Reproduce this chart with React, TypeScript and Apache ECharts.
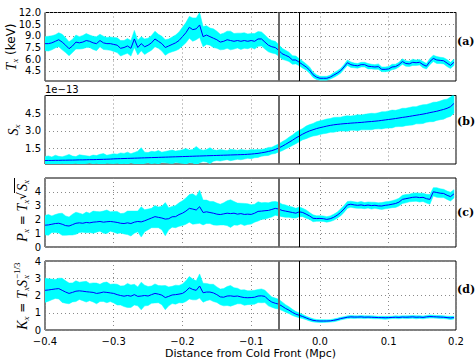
import React, { useEffect, useRef } from "react";
import * as echarts from "echarts";

const xs: number[] = [
  -0.400,-0.395,-0.390,-0.385,-0.380,-0.375,-0.370,-0.365,-0.360,-0.355,
  -0.350,-0.345,-0.340,-0.335,-0.330,-0.325,-0.320,-0.315,-0.310,-0.305,
  -0.300,-0.295,-0.290,-0.285,-0.280,-0.275,-0.270,-0.265,-0.260,-0.255,
  -0.250,-0.245,-0.240,-0.235,-0.230,-0.225,-0.220,-0.215,-0.210,-0.205,
  -0.200,-0.195,-0.190,-0.185,-0.180,-0.175,-0.170,-0.165,-0.160,-0.155,
  -0.150,-0.145,-0.140,-0.135,-0.130,-0.125,-0.120,-0.115,-0.110,-0.105,
  -0.100,-0.095,-0.090,-0.085,-0.080,-0.075,-0.070,-0.065,-0.060,-0.055,
  -0.050,-0.045,-0.040,-0.035,-0.030,-0.025,-0.020,-0.015,-0.010,-0.005,
  0.000,0.005,0.010,0.015,0.020,0.025,0.030,0.035,0.040,0.045,
  0.050,0.055,0.060,0.065,0.070,0.075,0.080,0.085,0.090,0.095,
  0.100,0.105,0.110,0.115,0.120,0.125,0.130,0.135,0.140,0.145,
  0.150,0.155,0.160,0.165,0.170,0.175,0.180,0.185,0.190,0.195,
];

// (a) temperature T_x (keV)
const tVals: number[] = [
  8.0,8.0,8.1,8.3,8.5,8.2,7.8,7.35,7.7,8.2,
  8.1,8.2,8.4,8.3,8.1,8.0,8.4,8.1,8.0,8.0,
  7.9,7.8,7.4,7.5,7.7,7.4,8.6,7.5,8.0,7.6,
  7.8,8.1,8.6,8.3,8.0,7.5,7.7,7.9,8.1,8.4,
  8.9,9.4,10.1,9.8,9.9,10.4,8.9,9.1,8.9,8.7,
  8.5,8.2,8.3,8.5,8.4,8.3,8.4,8.3,8.4,8.3,
  8.4,8.3,8.6,8.6,8.2,7.8,7.6,7.5,7.15,6.7,
  6.5,6.3,5.9,5.9,5.6,5.3,5.0,4.6,4.0,3.7,
  3.55,3.55,3.55,3.7,3.95,4.2,4.5,5.0,5.55,5.3,
  5.2,5.15,5.3,5.3,5.1,5.05,5.0,5.05,4.7,4.7,
  4.75,5.0,5.05,5.3,5.7,5.45,5.4,5.6,5.55,5.6,
  5.3,5.1,5.7,6.1,5.9,5.85,5.8,5.5,5.2,5.6,
];
const tErr: number[] = [
  0.9,0.95,0.9,0.85,0.9,1.0,0.95,0.9,0.85,0.9,
  0.8,0.85,0.9,0.8,0.85,0.9,0.8,0.85,0.8,0.85,
  0.9,0.95,1.0,0.9,0.95,1.0,1.1,0.95,0.9,1.0,
  0.9,0.95,1.0,0.9,0.95,1.0,0.9,0.95,1.0,1.1,
  1.2,1.3,1.4,1.5,1.4,1.6,1.3,1.2,1.1,1.2,
  1.1,1.0,1.05,1.1,1.2,1.0,0.95,1.05,1.0,0.95,
  0.9,1.0,0.95,0.9,0.9,0.85,0.8,0.8,0.75,0.7,
  0.65,0.6,0.55,0.5,0.45,0.45,0.4,0.4,0.35,0.3,
  0.25,0.25,0.25,0.25,0.3,0.3,0.3,0.3,0.35,0.35,
  0.3,0.3,0.3,0.3,0.35,0.3,0.3,0.35,0.3,0.3,
  0.3,0.35,0.3,0.3,0.35,0.35,0.35,0.4,0.35,0.35,
  0.4,0.35,0.4,0.4,0.45,0.4,0.4,0.45,0.4,0.4,
];

// (b) S_x in units of 1e-13
const sVals: number[] = [
  0.40,0.41,0.41,0.42,0.42,0.43,0.43,0.44,0.44,0.45,
  0.46,0.46,0.47,0.48,0.48,0.49,0.50,0.51,0.52,0.53,
  0.55,0.56,0.57,0.58,0.59,0.60,0.61,0.62,0.63,0.64,
  0.65,0.66,0.67,0.68,0.69,0.70,0.71,0.72,0.73,0.74,
  0.75,0.76,0.77,0.78,0.79,0.80,0.81,0.82,0.83,0.84,
  0.85,0.86,0.87,0.88,0.89,0.90,0.91,0.92,0.93,0.95,
  0.97,1.0,1.03,1.08,1.13,1.2,1.27,1.37,1.5,1.65,
  1.82,2.0,2.18,2.38,2.55,2.72,2.87,3.0,3.1,3.2,
  3.28,3.35,3.42,3.48,3.53,3.57,3.6,3.63,3.65,3.68,
  3.7,3.72,3.74,3.77,3.8,3.82,3.85,3.88,3.92,3.96,
  4.0,4.04,4.08,4.13,4.18,4.22,4.27,4.32,4.37,4.42,
  4.47,4.53,4.6,4.66,4.72,4.8,4.88,4.98,5.12,5.4,
];
const sErr: number[] = [
  0.35,0.4,0.3,0.45,0.35,0.3,0.4,0.5,0.35,0.3,
  0.45,0.4,0.35,0.3,0.4,0.35,0.45,0.5,0.35,0.4,
  0.45,0.4,0.5,0.45,0.55,0.4,0.5,0.6,0.9,0.5,
  0.45,0.55,0.5,0.6,0.45,0.5,0.55,0.6,0.5,0.55,
  0.6,0.7,0.55,0.6,0.85,0.6,0.5,0.55,0.7,0.5,
  0.45,0.5,0.45,0.4,0.5,0.45,0.4,0.45,0.4,0.35,
  0.4,0.35,0.35,0.3,0.3,0.35,0.3,0.35,0.35,0.4,
  0.4,0.45,0.45,0.5,0.5,0.5,0.55,0.55,0.55,0.6,
  0.6,0.6,0.62,0.6,0.65,0.62,0.6,0.65,0.68,0.62,
  0.65,0.7,0.65,0.68,0.7,0.72,0.68,0.7,0.75,0.72,
  0.75,0.78,0.72,0.75,0.8,0.76,0.78,0.8,0.75,0.8,
  0.82,0.78,0.8,0.85,0.8,0.82,0.85,0.8,0.85,0.85,
];

// (c) pressure P_x
const pVals: number[] = [
  1.58,1.6,1.65,1.7,1.72,1.65,1.55,1.52,1.62,1.72,
  1.75,1.72,1.78,1.75,1.8,1.82,1.85,1.8,1.83,1.85,
  1.82,1.78,1.72,1.7,1.75,1.7,1.8,1.85,1.82,1.9,
  2.0,2.1,2.2,2.15,2.1,2.02,2.05,2.19,2.2,2.35,
  2.45,2.6,2.8,2.75,2.68,2.92,2.5,2.55,2.5,2.45,
  2.38,2.35,2.4,2.45,2.42,2.45,2.38,2.42,2.36,2.38,
  2.36,2.45,2.58,2.6,2.63,2.65,2.72,2.8,2.75,2.65,
  2.6,2.55,2.5,2.45,2.55,2.5,2.38,2.25,2.08,2.06,
  2.07,2.05,2.0,2.05,2.15,2.3,2.5,2.75,3.05,3.1,
  3.05,3.02,3.05,3.0,3.04,3.0,3.02,2.98,2.97,3.02,
  3.05,3.1,3.15,3.25,3.45,3.5,3.55,3.6,3.62,3.58,
  3.6,3.5,3.45,4.0,3.95,3.9,3.88,3.75,3.65,3.85,
];
const pErr: number[] = [
  0.7,0.75,0.6,0.65,0.7,0.8,0.7,0.65,0.75,0.8,
  0.7,0.65,0.75,0.7,0.8,0.75,0.7,0.8,0.85,0.7,
  0.75,0.8,0.7,0.75,0.85,0.9,0.8,0.75,1.1,0.8,
  0.75,0.7,0.8,0.75,0.85,1.2,0.8,0.75,0.8,0.85,
  0.9,0.95,1.0,1.1,1.0,1.2,0.9,0.85,0.8,0.85,
  0.8,0.75,0.8,0.9,1.0,0.85,0.8,0.75,0.8,0.75,
  0.7,0.65,0.7,0.6,0.6,0.55,0.55,0.5,0.5,0.45,
  0.45,0.4,0.4,0.35,0.35,0.3,0.3,0.25,0.25,0.2,
  0.2,0.2,0.2,0.2,0.22,0.22,0.25,0.25,0.25,0.22,
  0.22,0.22,0.25,0.22,0.22,0.25,0.22,0.22,0.25,0.25,
  0.25,0.25,0.28,0.28,0.3,0.3,0.28,0.3,0.3,0.32,
  0.3,0.32,0.35,0.3,0.35,0.32,0.3,0.3,0.32,0.3,
];

// (d) entropy K_x
const kVals: number[] = [
  2.3,2.32,2.35,2.38,2.4,2.3,2.2,2.12,2.18,2.25,
  2.27,2.25,2.22,2.2,2.18,2.12,2.15,2.2,2.18,2.15,
  2.12,2.05,2.0,1.96,2.0,1.96,2.05,1.95,1.97,2.0,
  1.97,2.05,2.12,2.08,2.02,1.88,1.95,2.03,2.05,2.08,
  2.12,2.25,2.45,2.35,2.3,2.55,2.16,2.2,2.2,2.15,
  2.05,1.92,1.9,1.97,1.98,1.95,1.97,1.92,1.88,1.87,
  1.88,1.9,1.97,1.98,1.95,1.75,1.62,1.55,1.5,1.38,
  1.25,1.15,1.02,0.92,0.85,0.78,0.7,0.62,0.56,0.53,
  0.52,0.52,0.52,0.53,0.56,0.6,0.66,0.7,0.74,0.76,
  0.75,0.75,0.76,0.74,0.75,0.74,0.73,0.72,0.72,0.71,
  0.72,0.73,0.74,0.73,0.75,0.74,0.75,0.76,0.74,0.75,
  0.73,0.76,0.78,0.77,0.76,0.75,0.74,0.72,0.7,0.72,
];
const kErr: number[] = [
  0.7,0.65,0.6,0.55,0.6,0.7,0.65,0.6,0.55,0.6,
  0.5,0.55,0.6,0.5,0.55,0.6,0.5,0.55,0.6,0.5,
  0.55,0.6,0.55,0.6,0.7,0.65,0.6,0.55,0.8,0.6,
  0.55,0.5,0.55,0.5,0.55,0.7,0.55,0.5,0.55,0.5,
  0.55,0.6,0.65,0.6,0.55,0.7,0.55,0.5,0.45,0.5,
  0.45,0.45,0.5,0.55,0.6,0.5,0.45,0.4,0.45,0.4,
  0.4,0.4,0.38,0.4,0.36,0.35,0.3,0.3,0.28,0.25,
  0.22,0.2,0.18,0.15,0.14,0.12,0.1,0.1,0.09,0.08,
  0.08,0.08,0.07,0.07,0.08,0.08,0.08,0.07,0.08,0.08,
  0.08,0.07,0.08,0.08,0.07,0.08,0.08,0.07,0.08,0.08,
  0.08,0.07,0.08,0.08,0.07,0.08,0.08,0.08,0.09,0.08,
  0.08,0.08,0.09,0.08,0.08,0.09,0.08,0.08,0.09,0.08,
];

const frontLines: number[] = [-0.06, -0.034];
const tTicks: number[] = [4.5, 6.0, 7.5, 9.0, 10.5, 12.0];
const sTicks: number[] = [1.5, 3.0, 4.5];
const pTicks: number[] = [0, 1, 2, 3, 4];
const kTicks: number[] = [0, 1, 2, 3, 4];
const panelTags: string[] = ["(a)", "(b)", "(c)", "(d)"];
const xTitle = "Distance from Cold Front (Mpc)";

const SANS = "DejaVu Sans";
const MATH = "Liberation Serif";

const gridBoxes = [
  { top: 12.5, height: 68.5 },
  { top: 95.5, height: 68.5 },
  { top: 178, height: 69 },
  { top: 261, height: 69 },
];

function fmtX(v: number): string {
  if (Math.abs(v) < 1e-9) return "0.0";
  return (v < 0 ? "\u2212" : "") + Math.abs(v).toFixed(1);
}

function bandSeries(g: number, vals: number[], errs: number[]) {
  const lowHigh = xs.map((x, i) => [x, vals[i] - errs[i], vals[i] + errs[i]]);
  return [
    {
      type: "custom",
      xAxisIndex: g,
      yAxisIndex: g,
      clip: true,
      silent: true,
      z: 2,
      data: lowHigh,
      encode: { x: 0, y: [1, 2] },
      renderItem: (params: any, api: any) => {
        if (params.dataIndex !== 0) return null;
        const up = lowHigh.map((d) => api.coord([d[0], d[2]]));
        const lo = lowHigh.map((d) => api.coord([d[0], d[1]])).reverse();
        return {
          type: "polygon",
          shape: { points: up.concat(lo) },
          style: { fill: "#00ffff", stroke: "#00ffff", lineWidth: 0.5 },
        };
      },
    },
    {
      type: "line",
      xAxisIndex: g,
      yAxisIndex: g,
      data: xs.map((x, i) => [x, vals[i]]),
      showSymbol: false,
      symbol: "none",
      lineStyle: { color: "#0000ff", width: 1 },
      silent: true,
      z: 3,
      markLine: {
        silent: true,
        symbol: "none",
        label: { show: false },
        animation: false,
        data: [
          { xAxis: frontLines[0], lineStyle: { color: "#6a6a6a", width: 2, type: "solid" } },
          { xAxis: frontLines[1], lineStyle: { color: "#000", width: 1, type: "solid" } },
        ],
      },
    },
  ];
}

const rich = {
  i: { fontFamily: MATH, fontStyle: "italic", fontSize: 14, lineHeight: 16, color: "#000" },
  n: { fontFamily: SANS, fontSize: 12, lineHeight: 16, color: "#000" },
  s: { fontFamily: MATH, fontStyle: "italic", fontSize: 9, lineHeight: 9, verticalAlign: "bottom", color: "#000" },
};

export default function App() {
  const ref = useRef<HTMLDivElement>(null);
  useEffect(() => {
    if (!ref.current) return;
    const chart = echarts.init(ref.current, undefined, { renderer: "svg" });
    const yDefs = [
      { min: 3.2, max: 12.0, ticks: tTicks, fmt: (v: number) => v.toFixed(1) },
      { min: 0.1, max: 6.1, ticks: sTicks, fmt: (v: number) => v.toFixed(1) },
      { min: 0, max: 5, ticks: pTicks, fmt: (v: number) => String(Math.round(v)) },
      { min: 0, max: 4, ticks: kTicks, fmt: (v: number) => String(Math.round(v)) },
    ];
    const split = { show: true, lineStyle: { color: "#8a8a8a", width: 1, type: [1, 3] } };
    const option: any = {
      animation: false,
      grid: gridBoxes.map((b) => ({
        left: 45,
        width: 411,
        top: b.top,
        height: b.height,
        show: true,
        borderColor: "#000",
        borderWidth: 1,
        backgroundColor: "transparent",
      })),
      xAxis: gridBoxes.map((_, g) => ({
        type: "value",
        gridIndex: g,
        min: -0.4,
        max: 0.198,
        interval: 0.1,
        axisLine: { show: false },
        axisTick: { show: false },
        splitLine: split,
        axisLabel: {
          show: g === 3,
          formatter: fmtX,
          fontFamily: SANS,
          fontSize: 10,
          color: "#000",
          margin: 6,
        },
        name: g === 3 ? xTitle : "",
        nameLocation: "middle",
        nameGap: 18,
        nameTextStyle: { fontFamily: SANS, fontSize: 11, color: "#000" },
      })),
      yAxis: yDefs.map((d, g) => ({
        type: "value",
        gridIndex: g,
        min: d.min,
        max: d.max,
        axisLine: { show: false },
        axisTick: { show: false, customValues: d.ticks },
        splitLine: split,
        axisLabel: {
          customValues: d.ticks,
          formatter: d.fmt,
          fontFamily: SANS,
          fontSize: 10,
          color: "#000",
          margin: 4,
        },
      })),
      series: [
        ...bandSeries(0, tVals, tErr),
        ...bandSeries(1, sVals, sErr),
        ...bandSeries(2, pVals, pErr),
        ...bandSeries(3, kVals, kErr),
      ],
      graphic: [
        {
          type: "text",
          x: 45,
          y: 89,
          style: { text: "1e\u221213", font: `10px "${SANS}"`, fill: "#000", align: "left", verticalAlign: "middle" },
        },
        ...panelTags.map((t, i) => ({
          type: "text",
          x: 457,
          y: [41, 121, 212.5, 289][i],
          style: { text: t, font: `bold 11px "DejaVu Serif"`, fill: "#000", align: "left", verticalAlign: "middle" },
        })),
        {
          type: "text",
          x: 11,
          y: 47,
          rotation: Math.PI / 2,
          style: { text: "{i|T}{s|x}{n| (keV)}", rich, align: "center", verticalAlign: "middle" },
        },
        {
          type: "text",
          x: 13,
          y: 130,
          rotation: Math.PI / 2,
          style: { text: "{i|S}{s|x}", rich, align: "center", verticalAlign: "middle" },
        },
        {
          type: "group",
          x: 22,
          y: 211,
          rotation: Math.PI / 2,
          children: [
            {
              type: "text",
              x: 19,
              y: 0,
              style: { text: "{i|P}{s|x}{n| = }{i|T}{s|x}{n|\u221A}", rich, align: "right", verticalAlign: "middle" },
            },
            {
              type: "text",
              x: 20,
              y: 0,
              style: { text: "{i|S}{s|x}", rich, align: "left", verticalAlign: "middle" },
            },
            {
              type: "line",
              shape: { x1: 18, y1: -7.5, x2: 33, y2: -7.5 },
              style: { stroke: "#000", lineWidth: 1 },
            },
          ],
        },
        {
          type: "group",
          x: 22,
          y: 293,
          rotation: Math.PI / 2,
          children: [
            {
              type: "text",
              x: 13,
              y: 0,
              style: { text: "{i|K}{s|x}{n| = }{i|T}{s|x}{i|S}", rich, align: "right", verticalAlign: "middle" },
            },
            {
              type: "text",
              x: 14,
              y: 4,
              style: { text: "x", font: `italic 9px "${MATH}"`, fill: "#000", align: "left", verticalAlign: "middle" },
            },
            {
              type: "text",
              x: 14,
              y: -5,
              style: { text: "\u22121/3", font: `9px "${MATH}"`, fill: "#000", align: "left", verticalAlign: "middle" },
            },
          ],
        },
      ],
    };
    chart.setOption(option);
    return () => chart.dispose();
  }, []);
  return (
    <div
      ref={ref}
      style={{ position: "absolute", left: 0, top: 0, width: 475, height: 360 }}
    />
  );
}
